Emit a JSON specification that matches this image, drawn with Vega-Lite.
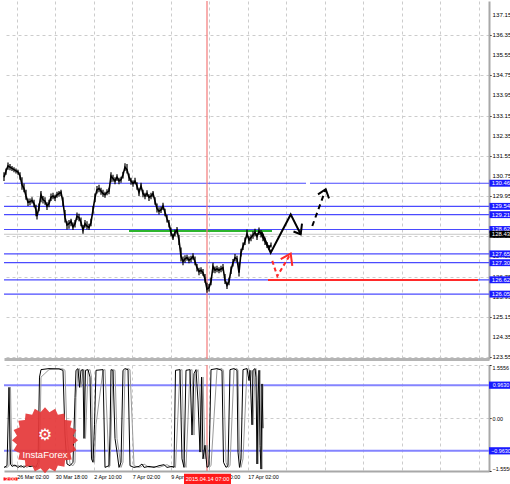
{
  "$schema": "https://vega.github.io/schema/vega-lite/v6.json",
  "padding": 0,
  "spacing": 3,
  "background": "white",
  "config": {
    "view": {"stroke": null},
    "axis": {"labelFont": "Liberation Sans, sans-serif", "labelFontSize": 6, "labelColor": "#000000", "title": null, "labelOverlap": false, "labelSeparation": 0}
  },
  "vconcat": [
    {
      "width": 485,
      "height": 358,
      "layer": [
        {
          "data": {"values": [
            {"p": 130.46, "a": 0, "b": 302}, {"p": 130.46, "a": 306, "b": 485},
            {"p": 129.54, "a": 0, "b": 485}, {"p": 129.21, "a": 0, "b": 485},
            {"p": 128.62, "a": 0, "b": 485}, {"p": 127.65, "a": 0, "b": 485},
            {"p": 127.30, "a": 0, "b": 485}, {"p": 126.62, "a": 0, "b": 485},
            {"p": 126.05, "a": 0, "b": 485}
          ]},
          "mark": {"type": "rule", "color": "#4a4aff", "strokeWidth": 1.2},
          "encoding": {
            "x": {"field": "a", "type": "quantitative", "scale": {"domain": [0, 485], "nice": false, "zero": false},
              "axis": {"values": [12.7, 31.95, 51.2, 70.45, 89.7, 108.95, 128.2, 147.45, 166.7, 185.95, 205.2, 224.45, 243.7, 262.95, 282.2, 301.45, 320.7, 339.95, 359.2, 378.45, 397.7, 416.95, 436.2, 455.45, 474.7],
                "labels": false, "ticks": false, "domain": true, "domainColor": "#b4b4b4", "domainWidth": 3,
                "grid": true, "gridDash": [3, 3], "gridColor": "#cccccc", "gridWidth": 1}},
            "x2": {"field": "b"},
            "y": {"field": "p", "type": "quantitative", "scale": {"domain": [123.47, 137.707], "nice": false, "zero": false},
              "axis": {"orient": "right", "values": [123.55, 124.35, 125.15, 125.95, 126.75, 127.55, 128.35, 129.15, 129.95, 130.75, 131.55, 132.35, 133.15, 133.95, 134.75, 135.55, 136.35, 137.15],
                "labels": false, "grid": true, "gridDash": [3, 3], "gridColor": "#cccccc", "domainColor": "#a8a8a8", "domainWidth": 2,
                "tickSize": 2, "tickColor": "#000000"}}
          }
        },
        {
          "data": {"values": [{"p": 128.43, "a": 0, "b": 485}]},
          "mark": {"type": "rule", "color": "#c8c8c8", "strokeWidth": 1},
          "encoding": {"x": {"field": "a", "type": "quantitative"}, "x2": {"field": "b"}, "y": {"field": "p", "type": "quantitative"}}
        },
        {
          "data": {"values": [{"p": 128.56, "a": 125, "b": 268}]},
          "mark": {"type": "rule", "color": "#2db52d", "strokeWidth": 2},
          "encoding": {"x": {"field": "a", "type": "quantitative"}, "x2": {"field": "b"}, "y": {"field": "p", "type": "quantitative"}}
        },
        {
          "data": {"values": [{"p": 126.61, "a": 264, "b": 474}]},
          "mark": {"type": "rule", "color": "#ff2a2a", "strokeWidth": 2},
          "encoding": {"x": {"field": "a", "type": "quantitative"}, "x2": {"field": "b"}, "y": {"field": "p", "type": "quantitative"}}
        },
        {
          "data": {"values": [{"i": 203}]},
          "mark": {"type": "rule", "color": "#f47a7a", "strokeWidth": 1.2},
          "encoding": {"x": {"field": "i", "type": "quantitative"}}
        },
        {
          "data": {"name": "price"},
          "mark": {"type": "rule", "color": "#000000", "strokeWidth": 1.2},
          "encoding": {"x": {"field": "i", "type": "quantitative"}, "y": {"field": "h", "type": "quantitative"}, "y2": {"field": "l"}}
        },
        {
          "data": {"name": "price"},
          "mark": {"type": "line", "color": "#000000", "strokeWidth": 1.6},
          "encoding": {"x": {"field": "i", "type": "quantitative"}, "y": {"field": "c", "type": "quantitative"}}
        },
        {
          "data": {"values": [
            {"s": "a", "k": 1, "i": 257.5, "p": 128.52}, {"s": "a", "k": 2, "i": 266.7, "p": 127.70},
            {"s": "a", "k": 3, "i": 286.7, "p": 129.22}, {"s": "a", "k": 4, "i": 296.7, "p": 128.43},
            {"s": "b", "k": 1, "i": 289.5, "p": 128.54}, {"s": "b", "k": 2, "i": 296.7, "p": 128.43}, {"s": "b", "k": 3, "i": 298.0, "p": 128.85},
            {"s": "c", "k": 1, "i": 314.0, "p": 130.02}, {"s": "c", "k": 2, "i": 321.7, "p": 130.22}, {"s": "c", "k": 3, "i": 325.0, "p": 129.86}
          ]},
          "mark": {"type": "line", "color": "#000000", "strokeWidth": 2},
          "encoding": {"x": {"field": "i", "type": "quantitative"}, "y": {"field": "p", "type": "quantitative"}, "detail": {"field": "s"}, "order": {"field": "k"}}
        },
        {
          "data": {"values": [{"k": 1, "i": 308.3, "p": 128.76}, {"k": 2, "i": 321.7, "p": 130.22}]},
          "mark": {"type": "line", "color": "#000000", "strokeWidth": 2, "strokeDash": [5, 4]},
          "encoding": {"x": {"field": "i", "type": "quantitative"}, "y": {"field": "p", "type": "quantitative"}, "order": {"field": "k"}}
        },
        {
          "data": {"values": [{"k": 1, "i": 268.3, "p": 127.37}, {"k": 2, "i": 273.3, "p": 126.77}, {"k": 3, "i": 286.7, "p": 127.66}]},
          "mark": {"type": "line", "color": "#ff2a2a", "strokeWidth": 2, "strokeDash": [4, 3]},
          "encoding": {"x": {"field": "i", "type": "quantitative"}, "y": {"field": "p", "type": "quantitative"}, "order": {"field": "k"}}
        },
        {
          "data": {"values": [{"k": 1, "i": 276.7, "p": 127.44}, {"k": 2, "i": 286.7, "p": 127.66}, {"k": 3, "i": 288.3, "p": 127.17}]},
          "mark": {"type": "line", "color": "#ff2a2a", "strokeWidth": 2},
          "encoding": {"x": {"field": "i", "type": "quantitative"}, "y": {"field": "p", "type": "quantitative"}, "order": {"field": "k"}}
        },
        {
          "data": {"values": [{"p": 123.55}, {"p": 124.35}, {"p": 125.15}, {"p": 125.95}, {"p": 126.75}, {"p": 127.55}, {"p": 128.35}, {"p": 129.15}, {"p": 129.95}, {"p": 130.75}, {"p": 131.55}, {"p": 132.35}, {"p": 133.15}, {"p": 133.95}, {"p": 134.75}, {"p": 135.55}, {"p": 136.35}, {"p": 137.15}]},
          "mark": {"type": "text", "color": "#000000", "fontSize": 6.2, "font": "Liberation Sans, sans-serif", "align": "left", "baseline": "middle"},
          "encoding": {"x": {"datum": 488.5, "type": "quantitative"}, "y": {"field": "p", "type": "quantitative"}, "text": {"field": "p", "type": "quantitative", "format": ".2f"}}
        },
        {
          "data": {"values": [{"p": 130.46}, {"p": 129.54}, {"p": 129.21}, {"p": 128.62}, {"p": 127.65}, {"p": 127.30}, {"p": 126.62}, {"p": 126.05}]},
          "mark": {"type": "point", "shape": "M-1,-0.3H1V0.3H-1Z", "filled": true, "fill": "#1a1aff", "opacity": 1, "size": 529},
          "encoding": {"x": {"datum": 497, "type": "quantitative"}, "y": {"field": "p", "type": "quantitative"}}
        },
        {
          "data": {"values": [{"p": 130.46}, {"p": 129.54}, {"p": 129.21}, {"p": 128.62}, {"p": 127.65}, {"p": 127.30}, {"p": 126.62}, {"p": 126.05}]},
          "mark": {"type": "text", "color": "#ffffff", "fontSize": 6, "font": "Liberation Sans, sans-serif", "align": "center", "baseline": "middle"},
          "encoding": {"x": {"datum": 497, "type": "quantitative"}, "y": {"field": "p", "type": "quantitative"}, "text": {"field": "p", "type": "quantitative", "format": ".2f"}}
        },
        {
          "data": {"values": [{"p": 128.43}]},
          "mark": {"type": "point", "shape": "M-1,-0.3H1V0.3H-1Z", "filled": true, "fill": "#000000", "opacity": 1, "size": 529},
          "encoding": {"x": {"datum": 497, "type": "quantitative"}, "y": {"field": "p", "type": "quantitative"}}
        },
        {
          "data": {"values": [{"p": 128.43}]},
          "mark": {"type": "text", "color": "#ffffff", "fontSize": 6, "font": "Liberation Sans, sans-serif", "align": "center", "baseline": "middle"},
          "encoding": {"x": {"datum": 497, "type": "quantitative"}, "y": {"field": "p", "type": "quantitative"}, "text": {"field": "p", "type": "quantitative", "format": ".2f"}}
        }
      ]
    },
    {
      "width": 485,
      "height": 106,
      "layer": [
        {
          "data": {"values": [{"v": 0.963}, {"v": -0.963}]},
          "mark": {"type": "rule", "color": "#8484ff", "strokeWidth": 2},
          "encoding": {
            "y": {"field": "v", "type": "quantitative", "scale": {"domain": [-1.5556, 1.5556], "nice": false, "zero": false},
              "axis": {"orient": "right", "values": [-1.5556, 0, 1.5556], "labelExpr": "datum.value == 0 ? '0.00' : format(datum.value, '.4f')",
                "grid": true, "gridDash": [3, 3], "gridColor": "#cccccc", "domainColor": "#a8a8a8", "domainWidth": 2,
                "tickSize": 2, "tickColor": "#000000", "labelPadding": 1, "labelFontSize": 5.4, "labelOverlap": false, "labelBound": false, "labelFlush": true}}
          }
        },
        {
          "data": {"values": [{"i": 203}]},
          "mark": {"type": "rule", "color": "#f47a7a", "strokeWidth": 1.2},
          "encoding": {"x": {"field": "i", "type": "quantitative", "scale": {"domain": [0, 485], "nice": false, "zero": false},
            "axis": {"values": [12.7, 31.95, 51.2, 70.45, 89.7, 108.95, 128.2, 147.45, 166.7, 185.95, 205.2, 224.45, 243.7, 262.95, 282.2, 301.45, 320.7, 339.95, 359.2, 378.45, 397.7, 416.95, 436.2, 455.45, 474.7],
              "labelExpr": "datum.value == 12.7 ? '26 Mar 02:00' : datum.value == 51.2 ? '30 Mar 18:00' : datum.value == 89.7 ? '2 Apr 10:00' : datum.value == 128.2 ? '7 Apr 02:00' : datum.value == 166.7 ? '9 Apr 18:00' : datum.value == 205.2 ? '14 Apr 10:00' : datum.value == 243.7 ? '17 Apr 02:00' : ''",
              "labelAlign": "left", "labelPadding": 3, "labelFontSize": 5.4, "labelOverlap": false, "labelBound": false, "labelFlush": false,
              "ticks": false, "domain": true, "domainColor": "#a8a8a8", "domainWidth": 2,
              "grid": true, "gridDash": [3, 3], "gridColor": "#cccccc", "gridWidth": 1}}}
        },
        {
          "data": {"name": "ind"},
          "mark": {"type": "line", "color": "#9a9a9a", "strokeWidth": 1},
          "encoding": {"x": {"field": "i", "type": "quantitative"}, "y": {"field": "s", "type": "quantitative"}}
        },
        {
          "data": {"name": "ind"},
          "mark": {"type": "line", "color": "#000000", "strokeWidth": 1},
          "encoding": {"x": {"field": "i", "type": "quantitative"}, "y": {"field": "v", "type": "quantitative"}}
        },
        {
          "data": {"values": [{"n": "logo"}]},
          "mark": {"type": "point", "shape": "M1,0L0.849,0.135L0.951,0.309L0.766,0.39L0.809,0.588L0.608,0.608L0.588,0.809L0.39,0.766L0.309,0.951L0.135,0.849L0,1L-0.135,0.849L-0.309,0.951L-0.39,0.766L-0.588,0.809L-0.608,0.608L-0.809,0.588L-0.766,0.39L-0.951,0.309L-0.849,0.135L-1,0L-0.849,-0.135L-0.951,-0.309L-0.766,-0.39L-0.809,-0.588L-0.608,-0.608L-0.588,-0.809L-0.39,-0.766L-0.309,-0.951L-0.135,-0.849L0,-1L0.135,-0.849L0.309,-0.951L0.39,-0.766L0.588,-0.809L0.608,-0.608L0.809,-0.588L0.766,-0.39L0.951,-0.309L0.849,-0.135Z", "filled": true, "fill": "#e5393a", "opacity": 0.93, "size": 4356},
          "encoding": {"x": {"datum": 41, "type": "quantitative"}, "y": {"datum": -0.65, "type": "quantitative"}}
        },
        {
          "data": {"values": [{"n": "InstaForex"}]},
          "mark": {"type": "text", "color": "#ffffff", "fontSize": 9.5, "font": "Liberation Sans, sans-serif", "align": "center", "baseline": "middle"},
          "encoding": {"x": {"datum": 41, "type": "quantitative"}, "y": {"datum": -1.09, "type": "quantitative"}, "text": {"field": "n"}}
        },
        {
          "data": {"values": [{"n": "⚙"}]},
          "mark": {"type": "text", "color": "#ffffff", "fontSize": 16, "font": "DejaVu Sans", "align": "center", "baseline": "middle"},
          "encoding": {"x": {"datum": 41, "type": "quantitative"}, "y": {"datum": -0.5, "type": "quantitative"}, "text": {"field": "n"}}
        },
        {
          "data": {"values": [{"v": 0.963}, {"v": -0.963}]},
          "mark": {"type": "point", "shape": "M-1,-0.3H1V0.3H-1Z", "filled": true, "fill": "#1a1aff", "opacity": 1, "size": 576},
          "encoding": {"x": {"datum": 497, "type": "quantitative"}, "y": {"field": "v", "type": "quantitative"}}
        },
        {
          "data": {"values": [{"v": 0.963}, {"v": -0.963}]},
          "mark": {"type": "text", "color": "#ffffff", "fontSize": 5.4, "font": "Liberation Sans, sans-serif", "align": "center", "baseline": "middle"},
          "encoding": {"x": {"datum": 497, "type": "quantitative"}, "y": {"field": "v", "type": "quantitative"}, "text": {"field": "v", "type": "quantitative", "format": ".4f"}}
        },
        {
          "data": {"values": [{"t": "3:00", "i": 6.5}, {"t": "2015.04.14 07:00", "i": 203.5}]},
          "mark": {"type": "point", "shape": "M-1,-0.22H1V0.22H-1Z", "filled": true, "fill": "#ff1a1a", "opacity": 1},
          "encoding": {"x": {"field": "i", "type": "quantitative"}, "y": {"datum": -1.79, "type": "quantitative"},
            "size": {"field": "t", "type": "nominal", "scale": {"domain": ["3:00", "2015.04.14 07:00"], "range": [196, 2209]}, "legend": null}}
        },
        {
          "data": {"values": [{"t": "3:00", "i": 6.5}, {"t": "2015.04.14 07:00", "i": 203.5}]},
          "mark": {"type": "text", "color": "#ffffff", "fontSize": 5.6, "font": "Liberation Sans, sans-serif", "align": "center", "baseline": "middle"},
          "encoding": {"x": {"field": "i", "type": "quantitative"}, "y": {"datum": -1.79, "type": "quantitative"}, "text": {"field": "t"}}
        }
      ]
    }
  ],
  "datasets": {
    "price": [
      {"i":0,"c":130.70,"h":130.90,"l":130.55},{"i":2,"c":130.95,"h":131.05,"l":130.80},{"i":4,"c":131.15,"h":131.28,"l":131.00},
      {"i":6,"c":131.10,"h":131.22,"l":130.98},{"i":8,"c":131.05,"h":131.15,"l":130.95},{"i":10,"c":131.00,"h":131.10,"l":130.90},
      {"i":12,"c":130.95,"h":131.05,"l":130.85},{"i":14,"c":130.90,"h":131.00,"l":130.80},{"i":16,"c":130.75,"h":130.90,"l":130.60},
      {"i":18,"c":130.40,"h":130.70,"l":130.20},{"i":20,"c":130.25,"h":130.45,"l":130.10},{"i":22,"c":129.95,"h":130.20,"l":129.80},
      {"i":24,"c":129.70,"h":129.85,"l":129.55},{"i":26,"c":129.72,"h":129.85,"l":129.58},{"i":28,"c":129.78,"h":129.90,"l":129.65},
      {"i":30,"c":129.65,"h":129.80,"l":129.50},{"i":32,"c":129.40,"h":129.60,"l":129.15},{"i":33,"c":129.15,"h":129.30,"l":129.02},
      {"i":35,"c":129.50,"h":129.65,"l":129.35},{"i":37,"c":130.00,"h":130.15,"l":129.70},{"i":39,"c":129.80,"h":129.95,"l":129.65},
      {"i":41,"c":129.75,"h":129.90,"l":129.60},{"i":43,"c":129.55,"h":129.70,"l":129.40},{"i":45,"c":129.65,"h":129.80,"l":129.50},
      {"i":47,"c":129.90,"h":130.05,"l":129.75},{"i":49,"c":129.95,"h":130.08,"l":129.82},{"i":51,"c":129.88,"h":130.00,"l":129.75},
      {"i":53,"c":130.00,"h":130.12,"l":129.88},{"i":55,"c":130.05,"h":130.15,"l":129.92},{"i":57,"c":130.10,"h":130.20,"l":129.95},
      {"i":59,"c":129.70,"h":129.90,"l":129.55},{"i":61,"c":129.10,"h":129.40,"l":128.90},{"i":63,"c":128.80,"h":128.95,"l":128.62},
      {"i":65,"c":128.85,"h":129.00,"l":128.65},{"i":67,"c":128.95,"h":129.05,"l":128.75},{"i":69,"c":128.72,"h":128.90,"l":128.60},
      {"i":71,"c":128.85,"h":129.00,"l":128.70},{"i":73,"c":129.15,"h":129.30,"l":129.00},{"i":75,"c":129.10,"h":129.25,"l":128.95},
      {"i":77,"c":128.90,"h":129.10,"l":128.75},{"i":79,"c":128.60,"h":128.80,"l":128.45},{"i":81,"c":128.85,"h":129.00,"l":128.70},
      {"i":83,"c":128.75,"h":128.95,"l":128.62},{"i":85,"c":128.70,"h":128.85,"l":128.60},{"i":87,"c":128.90,"h":129.05,"l":128.75},
      {"i":89,"c":129.40,"h":129.55,"l":129.25},{"i":91,"c":129.90,"h":130.05,"l":129.70},{"i":93,"c":130.20,"h":130.35,"l":130.05},
      {"i":95,"c":130.25,"h":130.40,"l":130.10},{"i":97,"c":130.15,"h":130.28,"l":130.00},{"i":99,"c":130.05,"h":130.20,"l":129.92},
      {"i":101,"c":130.00,"h":130.12,"l":129.88},{"i":103,"c":130.10,"h":130.22,"l":129.98},{"i":105,"c":130.15,"h":130.28,"l":130.02},
      {"i":107,"c":130.75,"h":130.90,"l":130.50},{"i":109,"c":130.65,"h":130.80,"l":130.52},{"i":111,"c":130.55,"h":130.70,"l":130.42},
      {"i":113,"c":130.70,"h":130.82,"l":130.55},{"i":115,"c":130.55,"h":130.68,"l":130.42},{"i":117,"c":130.60,"h":130.72,"l":130.48},
      {"i":119,"c":130.80,"h":130.92,"l":130.65},{"i":121,"c":131.10,"h":131.25,"l":130.95},{"i":123,"c":131.00,"h":131.22,"l":130.85},
      {"i":125,"c":130.70,"h":130.85,"l":130.55},{"i":127,"c":130.55,"h":130.68,"l":130.40},{"i":129,"c":130.45,"h":130.58,"l":130.32},
      {"i":131,"c":130.55,"h":130.68,"l":130.42},{"i":133,"c":130.35,"h":130.50,"l":130.20},{"i":135,"c":130.10,"h":130.25,"l":129.95},
      {"i":137,"c":130.35,"h":130.48,"l":130.22},{"i":139,"c":130.05,"h":130.20,"l":129.90},{"i":141,"c":129.95,"h":130.08,"l":129.82},
      {"i":143,"c":130.05,"h":130.18,"l":129.92},{"i":145,"c":129.90,"h":130.02,"l":129.75},{"i":147,"c":129.95,"h":130.08,"l":129.82},
      {"i":149,"c":130.05,"h":130.15,"l":129.90},{"i":151,"c":129.75,"h":129.90,"l":129.60},{"i":153,"c":129.45,"h":129.65,"l":129.30},
      {"i":155,"c":129.35,"h":129.50,"l":129.22},{"i":157,"c":129.40,"h":129.52,"l":129.28},{"i":159,"c":129.55,"h":129.68,"l":129.40},
      {"i":161,"c":129.30,"h":129.45,"l":129.15},{"i":163,"c":129.05,"h":129.20,"l":128.90},{"i":165,"c":128.85,"h":129.00,"l":128.70},
      {"i":167,"c":128.50,"h":128.70,"l":128.35},{"i":169,"c":128.30,"h":128.45,"l":128.20},{"i":171,"c":128.50,"h":128.62,"l":128.35},
      {"i":173,"c":128.60,"h":128.72,"l":128.45},{"i":175,"c":128.20,"h":128.40,"l":128.00},{"i":177,"c":127.55,"h":127.90,"l":127.35},
      {"i":179,"c":127.35,"h":127.55,"l":127.20},{"i":181,"c":127.45,"h":127.60,"l":127.30},{"i":183,"c":127.50,"h":127.62,"l":127.38},
      {"i":185,"c":127.40,"h":127.55,"l":127.28},{"i":187,"c":127.45,"h":127.58,"l":127.32},{"i":189,"c":127.55,"h":127.68,"l":127.42},
      {"i":191,"c":127.35,"h":127.55,"l":127.20},{"i":193,"c":127.10,"h":127.25,"l":126.95},{"i":195,"c":126.95,"h":127.10,"l":126.80},
      {"i":197,"c":127.00,"h":127.12,"l":126.85},{"i":199,"c":126.90,"h":127.05,"l":126.78},{"i":201,"c":126.65,"h":126.85,"l":126.50},
      {"i":203,"c":126.25,"h":126.50,"l":126.10},{"i":205,"c":126.30,"h":126.45,"l":126.15},{"i":207,"c":126.55,"h":126.70,"l":126.40},
      {"i":209,"c":127.15,"h":127.30,"l":126.90},{"i":211,"c":127.00,"h":127.15,"l":126.88},{"i":213,"c":127.05,"h":127.18,"l":126.92},
      {"i":215,"c":127.00,"h":127.12,"l":126.88},{"i":217,"c":127.05,"h":127.18,"l":126.92},{"i":219,"c":127.10,"h":127.25,"l":126.98},
      {"i":221,"c":126.60,"h":126.85,"l":126.45},{"i":223,"c":126.40,"h":126.55,"l":126.25},{"i":225,"c":126.55,"h":126.70,"l":126.40},
      {"i":227,"c":127.00,"h":127.15,"l":126.85},{"i":229,"c":127.30,"h":127.45,"l":127.15},{"i":231,"c":127.50,"h":127.65,"l":127.35},
      {"i":233,"c":127.45,"h":127.58,"l":127.32},{"i":235,"c":126.90,"h":127.30,"l":126.75},{"i":237,"c":127.70,"h":127.85,"l":127.55},
      {"i":239,"c":127.95,"h":128.10,"l":127.80},{"i":241,"c":128.15,"h":128.30,"l":128.00},{"i":243,"c":128.45,"h":128.62,"l":128.30},
      {"i":245,"c":128.20,"h":128.35,"l":128.05},{"i":247,"c":128.30,"h":128.42,"l":128.15},{"i":249,"c":128.40,"h":128.55,"l":128.25},
      {"i":251,"c":128.50,"h":128.65,"l":128.35},{"i":253,"c":128.35,"h":128.48,"l":128.20},{"i":255,"c":128.55,"h":128.70,"l":128.40},
      {"i":257,"c":128.45,"h":128.60,"l":128.30},{"i":259,"c":128.30,"h":128.45,"l":128.15},{"i":261,"c":128.15,"h":128.30,"l":128.00},
      {"i":263,"c":128.00,"h":128.12,"l":127.88},{"i":265,"c":127.90,"h":128.00,"l":127.80},{"i":267,"c":128.00,"h":128.10,"l":127.90}
    ],
    "ind": [
      {"i":0,"v":-1.45,"s":-1.45},{"i":3,"v":-1.40,"s":-1.45},{"i":5,"v":0.90,"s":-1.40},{"i":6.5,"v":-1.35,"s":0.90},
      {"i":8,"v":-1.42,"s":-1.35},{"i":11,"v":-1.38,"s":-1.42},{"i":14,"v":-1.45,"s":-1.38},{"i":17,"v":-1.40,"s":-1.45},
      {"i":20,"v":-1.45,"s":-1.40},{"i":23,"v":-1.38,"s":-1.45},{"i":26,"v":-1.43,"s":-1.38},{"i":29,"v":-1.40,"s":-1.43},
      {"i":32,"v":-1.45,"s":-1.40},{"i":34,"v":-1.30,"s":-1.45},{"i":35.5,"v":1.20,"s":-1.30},{"i":37,"v":1.42,"s":1.20},
      {"i":45,"v":1.45,"s":1.42},{"i":55,"v":1.44,"s":1.45},{"i":59,"v":1.40,"s":1.44},{"i":61,"v":-0.50,"s":1.40},
      {"i":63,"v":-1.35,"s":-0.50},{"i":66,"v":-1.40,"s":-1.35},{"i":69,"v":-1.30,"s":-1.40},{"i":71,"v":0.60,"s":-1.30},
      {"i":72,"v":1.40,"s":0.60},{"i":74,"v":1.45,"s":1.40},{"i":75.5,"v":0.90,"s":1.45},{"i":77,"v":1.40,"s":0.90},
      {"i":79,"v":1.42,"s":1.40},{"i":80,"v":-0.60,"s":1.42},{"i":81.5,"v":1.40,"s":-0.60},{"i":84,"v":1.42,"s":1.40},
      {"i":86,"v":1.20,"s":1.42},{"i":87.5,"v":-1.20,"s":1.20},{"i":89,"v":-1.30,"s":-1.20},{"i":90.5,"v":-0.20,"s":-1.30},
      {"i":92,"v":1.40,"s":-0.20},{"i":99,"v":1.42,"s":1.40},{"i":101,"v":-1.45,"s":1.42},{"i":105,"v":-1.40,"s":-1.45},
      {"i":106,"v":-0.50,"s":-1.40},{"i":107,"v":1.42,"s":-0.50},{"i":109,"v":1.40,"s":1.42},{"i":111,"v":-0.60,"s":1.40},
      {"i":113,"v":-1.00,"s":-0.60},{"i":115,"v":-1.45,"s":-1.00},{"i":117,"v":-1.30,"s":-1.45},{"i":119,"v":1.40,"s":-1.30},
      {"i":121,"v":1.45,"s":1.40},{"i":124,"v":1.42,"s":1.45},{"i":126,"v":-1.40,"s":1.42},{"i":130,"v":-1.45,"s":-1.40},
      {"i":135,"v":-1.42,"s":-1.45},{"i":138,"v":-1.35,"s":-1.42},{"i":140,"v":-1.45,"s":-1.35},{"i":145,"v":-1.42,"s":-1.45},
      {"i":150,"v":-1.45,"s":-1.42},{"i":155,"v":-1.40,"s":-1.45},{"i":160,"v":-1.37,"s":-1.40},{"i":163,"v":-1.45,"s":-1.37},
      {"i":168,"v":-1.42,"s":-1.45},{"i":170,"v":-1.45,"s":-1.42},{"i":171.5,"v":1.40,"s":-1.45},{"i":176,"v":1.42,"s":1.40},
      {"i":178,"v":-1.20,"s":1.42},{"i":180,"v":-1.45,"s":-1.20},{"i":182,"v":1.40,"s":-1.45},{"i":186,"v":1.42,"s":1.40},
      {"i":188,"v":-0.50,"s":1.42},{"i":190,"v":1.30,"s":-0.50},{"i":192,"v":1.42,"s":1.30},{"i":194,"v":0.50,"s":1.42},
      {"i":196,"v":-1.00,"s":0.50},{"i":197.5,"v":1.20,"s":-1.00},{"i":199,"v":-1.20,"s":1.20},{"i":201,"v":-0.80,"s":-1.20},
      {"i":203,"v":-1.45,"s":-0.80},{"i":205,"v":-1.40,"s":-1.45},{"i":207,"v":1.42,"s":-1.40},{"i":213,"v":1.45,"s":1.42},
      {"i":218,"v":1.40,"s":1.45},{"i":219.5,"v":-1.30,"s":1.40},{"i":222,"v":-1.45,"s":-1.30},{"i":224,"v":-1.40,"s":-1.45},
      {"i":226,"v":1.42,"s":-1.40},{"i":230,"v":1.45,"s":1.42},{"i":233,"v":1.40,"s":1.45},{"i":234,"v":-1.00,"s":1.40},
      {"i":235.5,"v":-1.45,"s":-1.00},{"i":237,"v":-1.20,"s":-1.45},{"i":239,"v":1.42,"s":-1.20},{"i":243,"v":1.45,"s":1.42},
      {"i":245,"v":1.10,"s":1.45},{"i":246,"v":1.40,"s":1.10},{"i":248,"v":-0.20,"s":1.40},{"i":249,"v":1.40,"s":-0.20},
      {"i":251,"v":1.45,"s":1.40},{"i":252,"v":1.20,"s":1.45},{"i":253,"v":-1.35,"s":1.20},{"i":254,"v":0.50,"s":-1.35},
      {"i":255,"v":1.40,"s":0.50},{"i":256,"v":-0.80,"s":1.40},{"i":257,"v":-1.50,"s":-0.80},{"i":258,"v":1.00,"s":-1.50},
      {"i":259,"v":-0.30,"s":1.00}
    ]
  }
}
